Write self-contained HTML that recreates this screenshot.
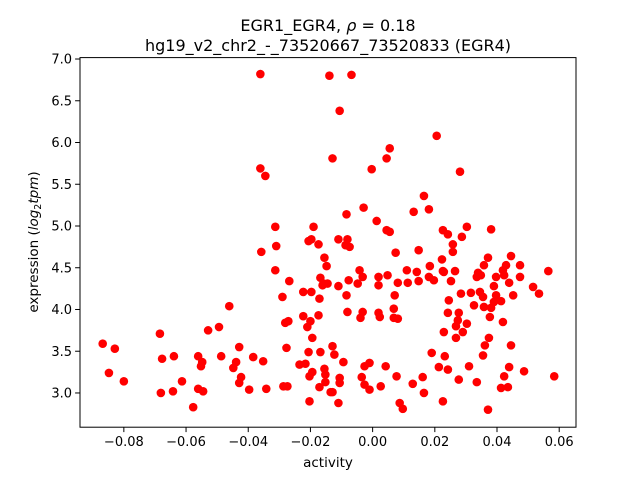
<!DOCTYPE html>
<html><head><meta charset="utf-8"><style>
body{margin:0;background:#fff}
svg{font-family:"DejaVu Sans","Liberation Sans",sans-serif}
</style></head><body>
<svg id="chart" width="640" height="480" viewBox="0 0 640 480" xmlns="http://www.w3.org/2000/svg">
<rect width="640" height="480" fill="#fff"/>
<text x="328" y="31" font-size="16" text-anchor="middle">EGR1_EGR4, <tspan font-style="italic">ρ</tspan> = 0.18</text>
<text x="328" y="51" font-size="16" text-anchor="middle">hg19_v2_chr2_-_73520667_73520833 (EGR4)</text>
<g id="points"></g>
<rect x="80" y="57.6" width="496" height="369.6" fill="none" stroke="#000" stroke-width="1"/>
<g id="xticks"></g>
<g id="yticks"></g>
<text x="328" y="467" font-size="13.5" text-anchor="middle">activity</text>
<text transform="translate(38,242) rotate(-90)" font-size="13.5" text-anchor="middle">expression (<tspan font-style="italic">log</tspan><tspan font-size="9.5" dy="3">2</tspan><tspan font-style="italic" dy="-3">tpm</tspan>)</text>
</svg>
<script>
const xVals=[-0.0868,-0.0829,-0.0848,-0.0800,-0.0684,-0.0677,-0.0639,-0.0681,-0.0642,-0.0613,-0.0577,-0.0561,-0.0548,-0.0552,-0.0561,-0.0545,-0.0529,-0.0494,-0.0461,-0.0487,-0.0429,-0.0439,-0.0448,-0.0423,-0.0429,-0.0384,-0.0397,-0.0352,-0.0342,-0.0290,-0.0268,-0.0223,-0.0197,-0.0171,-0.0223,-0.0200,-0.0210,-0.0174,-0.0277,-0.0281,-0.0271,-0.0194,-0.0206,-0.0168,-0.0235,-0.0216,-0.0194,-0.0203,-0.0155,-0.0152,-0.0152,-0.0171,-0.0135,-0.0287,-0.0274,-0.0203,-0.0161,-0.0145,
-0.0361,-0.0139,-0.0068,-0.0106,0.0206,0.0055,0.0045,-0.0129,-0.0003,-0.0361,-0.0345,0.0281,0.0165,0.0181,0.0132,-0.0029,-0.0084,0.0013,0.0045,0.0055,0.0226,0.0242,-0.0313,-0.0190,-0.0197,-0.0206,-0.0174,-0.0110,-0.0081,-0.0087,-0.0074,-0.0310,-0.0358,0.0074,0.0148,0.0258,0.0258,0.0223,-0.0155,-0.0148,-0.0313,-0.0042,0.0110,0.0142,0.0184,0.0226,0.0265,
-0.0168,-0.0158,-0.0110,-0.0077,-0.0048,-0.0032,0.0019,0.0019,0.0048,0.0081,0.0113,0.0148,0.0181,0.0197,0.0252,0.0229,0.0348,0.0397,0.0423,0.0439,0.0474,0.0565,0.0516,0.0535,0.0452,0.0390,0.0284,0.0316,0.0345,0.0355,0.0397,0.0390,0.0413,0.0326,0.0358,0.0381,0.0245,0.0419,0.0242,0.0277,0.0274,0.0268,0.0303,0.0290,0.0229,0.0268,0.0374,0.0361,0.0445,0.0355,0.0190,0.0232,0.0213,0.0242,0.0310,0.0439,0.0487,0.0423,0.0584,0.0277,0.0335,0.0413,0.0435,0.0226,0.0371,0.0161,0.0165,0.0129,0.0087,0.0097,0.0077,0.0026,0.0042,-0.0010,-0.0026,-0.0035,-0.0026,-0.0010,-0.0094,-0.0106,-0.0106,-0.0129,-0.0110,-0.0123,-0.0129,-0.0081,-0.0032,-0.0039,0.0019,0.0023,0.0068,0.0068,0.0081,0.0071,-0.0084,0.0377,0.0339,
0.0303,0.0381,0.0287,0.0371,0.0445,0.0474,0.0429,0.0419,0.0358,0.0335];
const yVals=[3.59,3.53,3.24,3.14,3.71,3.41,3.44,3.00,3.02,3.14,2.83,3.44,3.37,3.32,3.05,3.02,3.75,3.79,4.04,3.44,3.55,3.37,3.30,3.19,3.12,3.43,3.04,3.38,3.05,4.15,4.34,4.21,4.21,4.13,3.92,3.86,3.79,3.93,3.54,3.84,3.86,3.66,3.49,3.49,3.34,3.35,3.25,3.20,3.29,3.22,3.13,3.07,3.01,3.08,3.08,2.90,4.29,4.31,
6.82,6.80,6.81,6.38,6.08,5.93,5.81,5.81,5.68,5.69,5.60,5.65,5.36,5.20,5.17,5.22,5.14,5.06,4.95,4.93,4.95,4.90,4.99,4.99,4.84,4.82,4.78,4.84,4.84,4.77,4.75,4.76,4.69,4.68,4.71,4.78,4.69,4.60,4.62,4.52,4.47,4.47,4.47,4.45,4.52,4.46,4.46,
4.38,4.31,4.28,4.35,4.31,4.39,4.39,4.29,4.41,4.32,4.32,4.34,4.39,4.35,4.34,4.45,4.41,4.39,4.41,4.32,4.39,4.46,4.27,4.19,4.17,4.28,4.19,4.20,4.21,4.15,4.17,4.09,4.10,4.05,4.03,4.02,4.11,3.85,3.96,3.96,3.87,3.80,3.83,3.73,3.73,3.66,3.66,3.57,3.57,3.45,3.48,3.44,3.31,3.28,3.32,3.31,3.26,3.20,3.20,3.16,3.13,3.06,3.07,2.90,2.80,3.19,3.00,3.11,2.88,2.81,3.20,3.08,3.32,3.04,3.10,3.19,3.32,3.36,3.37,3.18,3.12,3.01,2.88,3.46,3.56,3.97,3.97,3.90,3.96,3.91,4.01,3.90,3.89,4.17,4.17,3.91,4.44,
4.99,4.96,4.87,4.62,4.64,4.53,4.53,4.47,4.53,4.39];
const xTicks=[-0.08,-0.06,-0.04,-0.02,0.00,0.02,0.04,0.06];
const xTickLabels=["−0.08","−0.06","−0.04","−0.02","0.00","0.02","0.04","0.06"];
const yTicks=[3.0,3.5,4.0,4.5,5.0,5.5,6.0,6.5,7.0];
const yTickLabels=["3.0","3.5","4.0","4.5","5.0","5.5","6.0","6.5","7.0"];

const NS="http://www.w3.org/2000/svg";
const X0=80,X1=576,Y0=57.6,Y1=427.2;
const xMin=-0.0941,xMax=0.0654,yMin=2.590,yMax=7.017;
function sx(v){return X0+(v-xMin)/(xMax-xMin)*(X1-X0);}
function sy(v){return Y1-(v-yMin)/(yMax-yMin)*(Y1-Y0);}
function mk(t,a){const e=document.createElementNS(NS,t);for(const k in a)e.setAttribute(k,a[k]);return e;}

const pg=document.getElementById('points');
for(let i=0;i<xVals.length;i++){
  const c=mk('circle',{cx:sx(xVals[i]),cy:sy(yVals[i]),r:4.3,fill:'#ff0000'});
  
  
  pg.appendChild(c);
}
const xg=document.getElementById('xticks');
xTicks.forEach((v,i)=>{
  const x=sx(v);
  const l=mk('line',{x1:x,x2:x,y1:Y1,y2:Y1+4.9,stroke:'#000','stroke-width':1});
  
  
  xg.appendChild(l);
  const t=mk('text',{x:x,y:Y1+19,'font-size':13,'text-anchor':'middle'});
  
  
  t.textContent=xTickLabels[i];
  xg.appendChild(t);
});
const yg=document.getElementById('yticks');
yTicks.forEach((v,i)=>{
  const y=sy(v);
  const l=mk('line',{x1:X0-4.9,x2:X0,y1:y,y2:y,stroke:'#000','stroke-width':1});
  
  
  yg.appendChild(l);
  const t=mk('text',{x:X0-8,y:y+4.6,'font-size':13,'text-anchor':'end'});
  
  
  t.textContent=yTickLabels[i];
  yg.appendChild(t);
});
</script>
</body></html>
